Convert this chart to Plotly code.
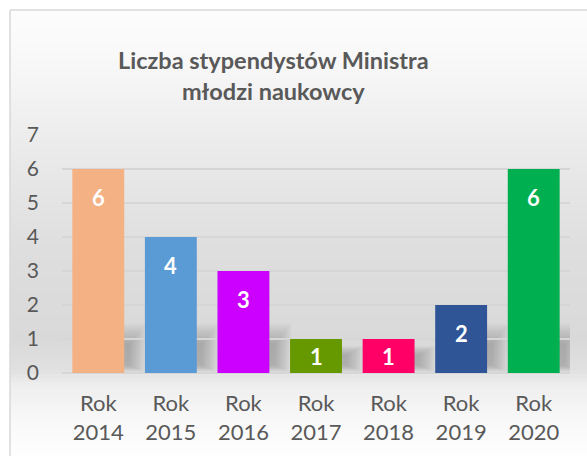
import plotly.graph_objects as go

categories = ["Rok<br>2014", "Rok<br>2015", "Rok<br>2016", "Rok<br>2017",
              "Rok<br>2018", "Rok<br>2019", "Rok<br>2020"]
values = [6, 4, 3, 1, 1, 2, 6]
bar_colors = ["#F4B183", "#5B9BD5", "#CC00FF", "#669900", "#FF0066", "#2F5597", "#00B050"]
y_ticks = [0, 1, 2, 3, 4, 5, 6, 7]
title_text = "Liczba stypendystów Ministra<br>młodzi naukowcy"

W, H = 587, 456
PX0, PX1 = 62, 570     # plot area x (px)
PY_TOP, PY_BOT = 135, 373  # plot area y (px)

def px_x(x):
    return x / W

def px_y(y):
    return 1 - y / H

fig = go.Figure()
fig.add_trace(go.Bar(
    x=list(range(len(values))), y=values,
    marker=dict(color=bar_colors, line=dict(width=0)),
    width=0.715, hoverinfo="skip",
))

shapes = []
# background gradient (bands)
stops = [(10, 252), (60, 248), (140, 236), (250, 222), (340, 217), (370, 224),
         (385, 238), (420, 248), (456, 254)]
def gray_at(y):
    for (y0, g0), (y1, g1) in zip(stops[:-1], stops[1:]):
        if y0 <= y <= y1:
            t = (y - y0) / (y1 - y0)
            return g0 + (g1 - g0) * t
    return stops[-1][1]
step = 4
y = 10
while y < H:
    g = int(round(gray_at(y + step / 2)))
    shapes.append(dict(type="rect", xref="paper", yref="paper",
                       x0=px_x(10), x1=1.01, y0=px_y(min(y + step, H)) - 0.001, y1=px_y(y),
                       fillcolor=f"rgb({g},{g},{g})", line=dict(width=0), layer="below"))
    y += step
# frame border
shapes.append(dict(type="line", xref="paper", yref="paper", x0=px_x(10), x1=1.01,
                   y0=px_y(10), y1=px_y(10), line=dict(color="#d9d9d9", width=1.5), layer="below"))
shapes.append(dict(type="line", xref="paper", yref="paper", x0=px_x(10), x1=px_x(10),
                   y0=px_y(10), y1=-0.01, line=dict(color="#d9d9d9", width=1.5), layer="below"))
# soft blurred shadows to the right of each bar
n_layers = 9
for i, v in enumerate(values):
    top = min(1.45, 0.8 * v)
    for k in range(n_layers):
        t = k / (n_layers - 1)
        shapes.append(dict(type="rect", xref="x", yref="y",
                           x0=i + 0.3, x1=i + 0.36 + 0.30 - 0.22 * t,
                           y0=0.02 + 0.2 * t, y1=top - (top - 0.55 * min(v, 1.6)) * t,
                           fillcolor="rgba(60,60,60,0.035)", line=dict(width=0), layer="below"))

fig.update_layout(shapes=shapes)

# data labels
for i, v in enumerate(values):
    ly = max(v - 0.85, v / 2)
    fig.add_annotation(x=i, y=ly, xref="x", yref="y", text=f"<b>{v}</b>",
                       showarrow=False, font=dict(family="Lato", size=22, color="white"))

# title
fig.add_annotation(x=px_x(273), y=px_y(75), xref="paper", yref="paper",
                   text=f"<b>{title_text}</b>", showarrow=False, xanchor="center", yanchor="middle",
                   font=dict(family="Lato", size=23.5, color="#595959"))

fig.update_layout(
    width=W, height=H,
    margin=dict(l=0, r=0, t=0, b=0, autoexpand=False),
    paper_bgcolor="white", plot_bgcolor="rgba(0,0,0,0)",
    showlegend=False,
    font=dict(family="Lato", color="#595959"),
    xaxis=dict(domain=[px_x(PX0), px_x(PX1)], range=[-0.5, 6.5], automargin=False,
               tickmode="array", tickvals=list(range(len(values))), ticktext=categories,
               tickfont=dict(size=22, color="#595959"), showgrid=False, zeroline=False,
               showline=False, ticks="", ticklabelstandoff=15),
    yaxis=dict(domain=[px_y(PY_BOT), px_y(PY_TOP)], range=[0, 7], automargin=False,
               tickmode="array", tickvals=y_ticks,
               tickfont=dict(size=21, color="#595959"), showgrid=True,
               gridcolor="#d6d6d6", gridwidth=1.5, zeroline=True, zerolinecolor="#d6d6d6",
               zerolinewidth=1.5, showline=False, ticks="", ticklabelstandoff=22),
)

fig.write_html("out.html", config={"displayModeBar": False},
               post_script="document.body.style.margin='0';document.body.style.overflow='hidden';")
